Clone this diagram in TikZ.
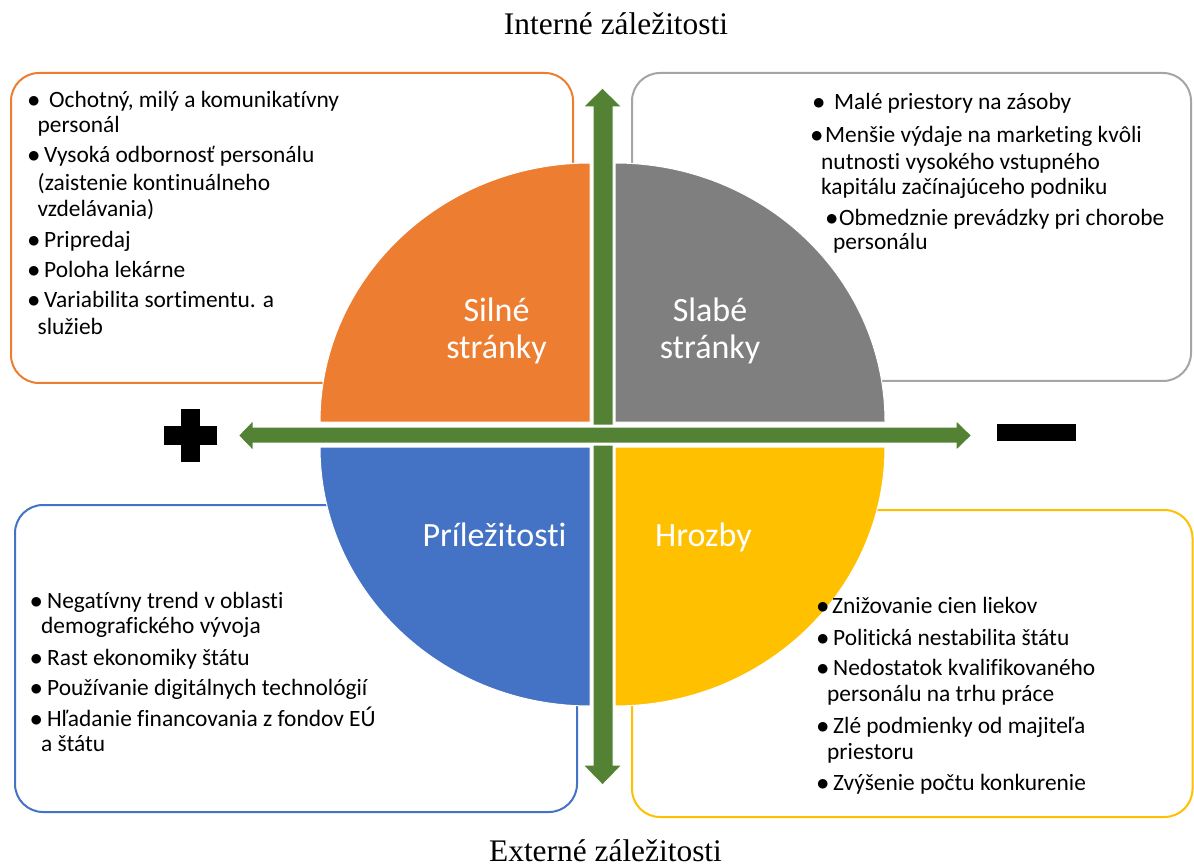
\documentclass[tikz,border=0pt]{standalone}
\usepackage{fontspec}
\setmainfont{Liberation Serif}
\newfontfamily\calib[Ligatures=NoCommon]{Carlito}
\definecolor{sOrange}{HTML}{ED7D31}
\definecolor{sGray}{HTML}{7F7F7F}
\definecolor{sGrayLine}{HTML}{A5A5A5}
\definecolor{sBlue}{HTML}{4472C4}
\definecolor{sYellow}{HTML}{FFC000}
\definecolor{sGreen}{HTML}{548235}
\tikzset{
  box/.style={rounded corners=28pt, line width=2pt},
  sector/.style={draw=white, line width=1pt},
  body/.style={font=\calib\fontsize{23.4}{26}\selectfont, anchor=base west, inner sep=0pt, text=black},
  lab/.style={font=\calib\fontsize{34}{36.6}\selectfont, text=white, inner sep=0pt},
  ttl/.style={font=\fontsize{31.4}{36}\selectfont, anchor=base, inner sep=0pt},
  garrow/.style={fill=sGreen, draw=white},
}
\newcommand\bul[1]{\makebox[#1pt][l]{\hspace*{-1.5pt}$\bullet$}}
\begin{document}
\begin{tikzpicture}[x=1pt,y=-1pt]
\useasboundingbox (0,0) rectangle (1194,866);
\fill[white] (0,0) rectangle (1194,866);
% boxes
\draw[box, draw=sOrange] (11,73) rectangle (573,383);
\draw[box, draw=sGrayLine] (632,73) rectangle (1191,381);
\draw[box, draw=sBlue] (15,505) rectangle (577,812);
\draw[box, draw=sYellow] (632,510) rectangle (1192.5,817);
% sectors
\filldraw[sector, fill=sOrange] (590,422) -- (320,422) arc[start angle=180, end angle=270, x radius=270, y radius=259] -- cycle;
\filldraw[sector, fill=sGray] (615,422) -- (615,163) arc[start angle=270, end angle=360, x radius=270, y radius=259] -- cycle;
\filldraw[sector, fill=sYellow] (615,447) -- (885,447) arc[start angle=0, end angle=90, x radius=270, y radius=259] -- cycle;
\filldraw[sector, fill=sBlue] (590,447) -- (590,706) arc[start angle=90, end angle=180, x radius=270, y radius=259] -- cycle;
% arrows
\filldraw[garrow, line width=1pt] (593,107) -- (583,107) -- (602.5,88) -- (622,107) -- (613,107) -- (613,765) -- (622,765) -- (602.5,785) -- (583,765) -- (593,765) -- cycle;
\filldraw[garrow, line width=3pt] (254,426) -- (254,418) -- (237,435.5) -- (254,453) -- (254,444) -- (955,444) -- (955,453) -- (973,435.5) -- (955,418) -- (955,426) -- cycle;
% plus and minus
\fill[black] (181,409) rectangle (200,462);
\fill[black] (164,426) rectangle (217,445);
\fill[black] (997,424) rectangle (1076,441);
% sector labels
\node[lab, anchor=base] (sl1) at (496.5,321.7) {Silné};
\node[lab, anchor=base] (sl2) at (496.5,358.3) {stránky};
\node[lab, anchor=base] (wk1) at (710,321.7) {Slabé};
\node[lab, anchor=base] (wk2) at (710,358.3) {stránky};
\node[lab, anchor=base] (op) at (494.5,546.7) {Príležitosti};
\node[lab, anchor=base west] (th) at (655,546.7) {Hrozby};
% titles
\node[ttl] (tin) at (616,35) {Interné záležitosti};
\node[ttl] (tex) at (605.5,861) {Externé záležitosti};
% strengths
\node[body] (o1) at (29,108) {\bul{20}Ochotný, milý a komunikatívny};
\node[body] (o2) at (37.5,132.7) {personál};
\node[body] (o3) at (29,163) {\bul{15}Vysoká odbornosť personálu};
\node[body] (o4) at (37.5,190.5) {(zaistenie kontinuálneho};
\node[body] (o5) at (37.5,216.7) {vzdelávania)};
\node[body] (o6) at (29,248) {\bul{15}Pripredaj};
\node[body] (o7) at (29,278) {\bul{15}Poloha lekárne};
\node[body] (o8) at (29,308) {\bul{15}Variabilita sortimentu. a};
\node[body] (o9) at (37.5,335) {služieb};
% weaknesses
\node[body] (g1) at (814,110) {\bul{20}Malé priestory na zásoby};
\node[body] (g2) at (812,143) {\bul{13}Menšie výdaje na marketing kvôli};
\node[body] (g3) at (821,170) {nutnosti vysokého vstupného};
\node[body] (g4) at (821,195) {kapitálu začínajúceho podniku};
\node[body] (g5) at (827,225.5) {\bul{12}Obmedznie prevádzky pri chorobe};
\node[body] (g6) at (833,250) {personálu};
% opportunities
\node[body] (b1) at (31.5,608) {\bul{15.5}Negatívny trend v oblasti};
\node[body] (b2) at (41,633) {demografického vývoja};
\node[body] (b3) at (31.5,665) {\bul{15.5}Rast ekonomiky štátu};
\node[body] (b4) at (31.5,695) {\bul{15.5}Používanie digitálnych technológií};
\node[body] (b5) at (31.5,726.5) {\bul{15.5}Hľadanie financovania z fondov EÚ};
\node[body] (b6) at (41,751.7) {a štátu};
% threats
\node[body] (y1) at (818,613) {\bul{14}Znižovanie cien liekov};
\node[body] (y2) at (818,645) {\bul{15}Politická nestabilita štátu};
\node[body] (y3) at (818,675) {\bul{15}Nedostatok kvalifikovaného};
\node[body] (y4) at (827,701.5) {personálu na trhu práce};
\node[body] (y5) at (818,733) {\bul{15}Zlé podmienky od majiteľa};
\node[body] (y6) at (827,759) {priestoru};
\node[body] (y7) at (818,790) {\bul{15}Zvýšenie počtu konkurenie};
\end{tikzpicture}
\end{document}
